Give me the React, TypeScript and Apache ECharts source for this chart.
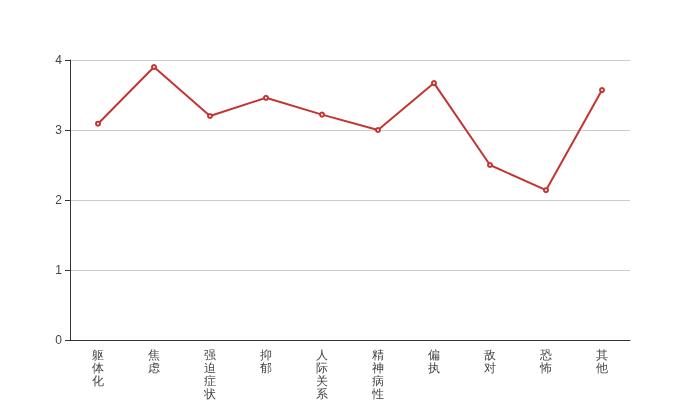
import React, { useEffect, useRef } from "react";
import * as echarts from "echarts";

const categories = ["躯体化", "焦虑", "强迫症状", "抑郁", "人际关系敏感", "精神病性", "偏执", "敌对", "恐怖", "其他"];
const values = [3.09, 3.9, 3.2, 3.46, 3.22, 3.0, 3.67, 2.5, 2.14, 3.57];

export default function App() {
  const ref = useRef<HTMLDivElement>(null);
  useEffect(() => {
    const chart = echarts.init(ref.current!, null, { renderer: "svg" });
    chart.setOption({
      animation: false,
      grid: { left: 70, right: 70, top: 60, bottom: 60, containLabel: false, outerBoundsMode: "none" },
      xAxis: {
        type: "category",
        data: categories,
        axisLine: { lineStyle: { color: "#333" } },
        axisTick: { lineStyle: { color: "#333" } },
        axisLabel: {
          color: "#444",
          fontSize: 12,
          interval: 0,
          lineHeight: 13,
          formatter: (v: string) => v.split("").join("\n"),
        },
      },
      yAxis: {
        type: "value",
        min: 0,
        max: 4,
        interval: 1,
        axisLine: { show: true, lineStyle: { color: "#333" } },
        axisTick: { show: true, lineStyle: { color: "#333" } },
        axisLabel: { color: "#444", fontSize: 12 },
        splitLine: { lineStyle: { color: "#ccc" } },
      },
      series: [
        {
          type: "line",
          data: values,
          symbol: "emptyCircle",
          symbolSize: 4,
          itemStyle: { color: "#c23531" },
          lineStyle: { color: "#c23531", width: 2 },
        },
      ],
    });
    return () => chart.dispose();
  }, []);
  return <div ref={ref} style={{ position: "fixed", left: 0, top: 0, width: 700, height: 400 }} />;
}
